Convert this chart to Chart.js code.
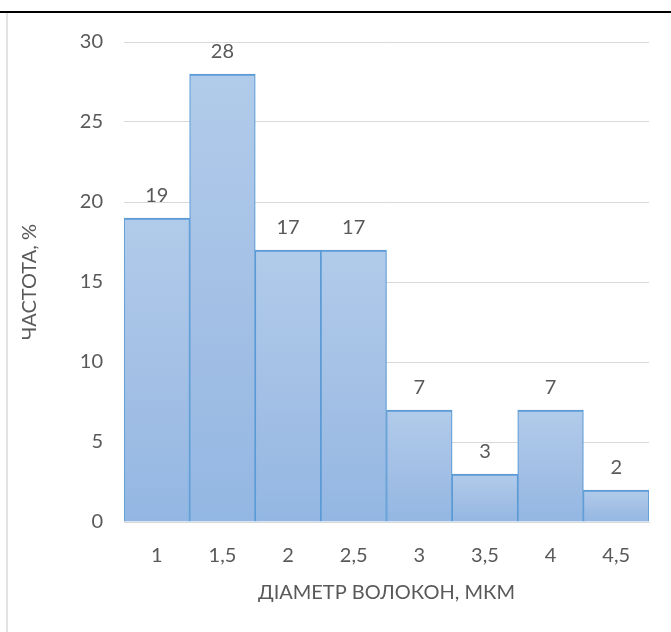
<!DOCTYPE html>
<html>
<head>
<meta charset="utf-8">
<script src="https://cdn.jsdelivr.net/npm/chart.js@4.4.1/dist/chart.umd.min.js"></script>
<style>
  html, body { margin: 0; padding: 0; background: #fff; }
  #wrap { position: relative; width: 671px; height: 632px; overflow: hidden; }
  #topRule { position: absolute; left: 0; top: 11px; width: 671px; height: 2px; background: #000; }
  #leftRule { position: absolute; left: 6px; top: 13px; width: 2px; height: 619px; background: #e3e3e3; }
  canvas { position: absolute; left: 0; top: 0; }
</style>
</head>
<body>
<div id="wrap">
  <canvas id="hist" width="671" height="632"></canvas>
  <div id="topRule"></div>
  <div id="leftRule"></div>
</div>
<script>
const diameters = ['1', '1,5', '2', '2,5', '3', '3,5', '4', '4,5'];
const frequency = [19, 28, 17, 17, 7, 3, 7, 2];
const yTicks = [0, 5, 10, 15, 20, 25, 30];

const textColor = '#595959';
const fontFamily = 'Lato, "Open Sans", sans-serif';
const fontSize = 20;

// value labels above each bar
const barLabels = {
  id: 'barLabels',
  afterDatasetsDraw(chart) {
    const ctx = chart.ctx;
    const meta = chart.getDatasetMeta(0);
    ctx.save();
    ctx.fillStyle = textColor;
    ctx.font = fontSize + 'px ' + fontFamily;
    ctx.textAlign = 'center';
    ctx.textBaseline = 'middle';
    meta.data.forEach((bar, i) => {
      ctx.fillText(String(frequency[i]), bar.x, bar.y - 22);
    });
    ctx.restore();
  }
};

// each bar gets its own light-to-darker vertical gradient
function barGradient(context) {
  const chart = context.chart;
  const area = chart.chartArea;
  if (!area || context.type !== 'data') return '#a6c3e6';
  const y = chart.scales.y;
  const top = y.getPixelForValue(context.raw);
  const base = y.getPixelForValue(0);
  const g = chart.ctx.createLinearGradient(0, top, 0, base);
  g.addColorStop(0, '#b1cbea');
  g.addColorStop(0.5, '#a4c0e5');
  g.addColorStop(1, '#93b7e3');
  return g;
}

new Chart(document.getElementById('hist'), {
  type: 'bar',
  data: {
    labels: diameters,
    datasets: [{
      data: frequency,
      backgroundColor: barGradient,
      borderColor: '#5b9bd5',
      borderWidth: { top: 2, left: 1.2, right: 1.2, bottom: 0 },
      borderSkipped: false,
      barPercentage: 1,
      categoryPercentage: 1
    }]
  },
  options: {
    responsive: false,
    animation: false,
    events: [],
    layout: { padding: { left: 0, top: 42, right: 22, bottom: 0 } },
    plugins: {
      legend: { display: false },
      tooltip: { enabled: false }
    },
    scales: {
      x: {
        grid: { display: false, drawTicks: false },
        border: { display: true, color: '#d9d9d9', width: 1 },
        ticks: {
          color: textColor,
          font: { family: fontFamily, size: fontSize },
          padding: 22,
          maxRotation: 0
        },
        title: {
          display: true,
          text: 'ДІАМЕТР ВОЛОКОН, МКМ',
          color: textColor,
          font: { family: fontFamily, size: fontSize },
          padding: { top: 0, bottom: 27 }
        },
        afterFit(scale) { scale.height = 110; }
      },
      y: {
        min: yTicks[0],
        max: yTicks[yTicks.length - 1],
        grid: { color: '#d9d9d9', lineWidth: 1, drawTicks: false },
        border: { display: false },
        afterBuildTicks(scale) { scale.ticks = yTicks.map(v => ({ value: v })); },
        ticks: {
          color: textColor,
          font: { family: fontFamily, size: fontSize },
          padding: 21
        },
        title: {
          display: true,
          text: 'ЧАСТОТА, %',
          color: textColor,
          font: { family: fontFamily, size: fontSize },
          padding: { top: 18, bottom: 0 }
        },
        afterFit(scale) { scale.width = 124; }
      }
    }
  },
  plugins: [barLabels]
});
</script>
</body>
</html>
